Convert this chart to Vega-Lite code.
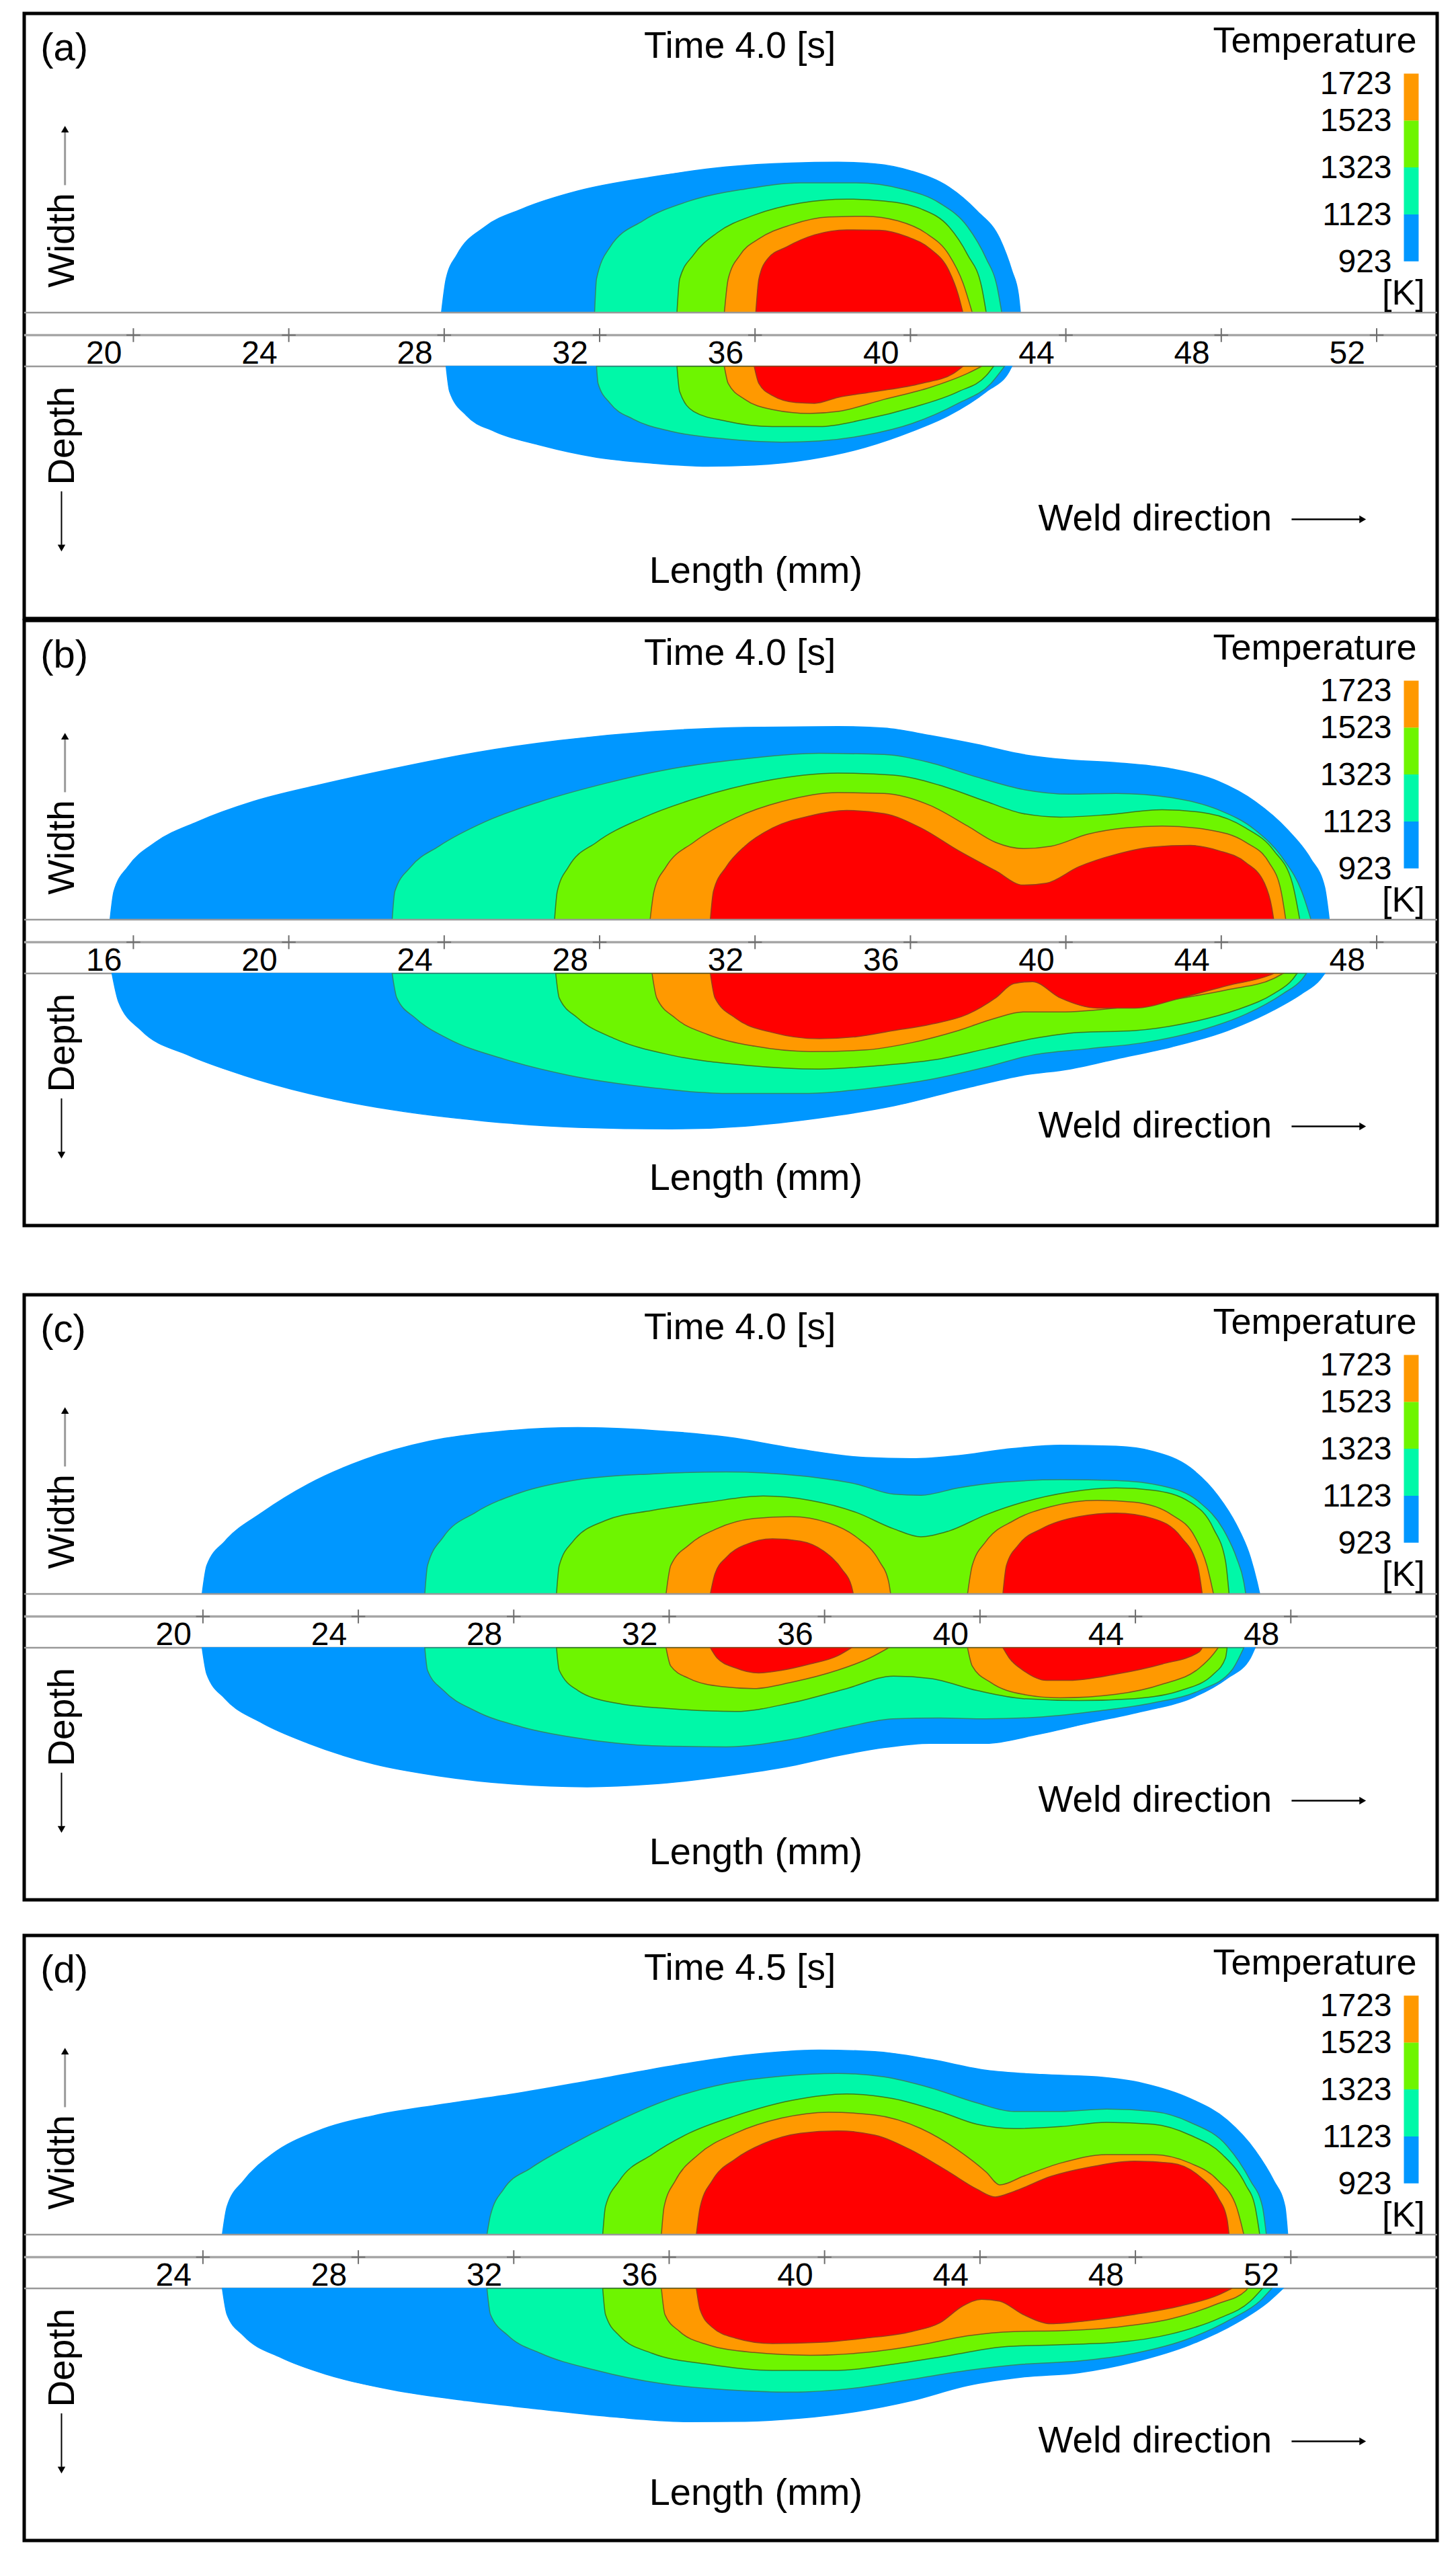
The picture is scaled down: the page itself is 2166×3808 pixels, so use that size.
{
"$schema": "https://vega.github.io/schema/vega-lite/v6.json",
"padding": {"left": 31, "top": 17, "right": 0, "bottom": 0},
"background": "white",
"config": {"view": {"stroke": "#000000", "strokeWidth": 5}, "font": "Liberation Sans", "text": {"font": "Liberation Sans", "color": "#000000"}},
"datasets": {
"ta": [{"t":20},{"t":24},{"t":28},{"t":32},{"t":36},{"t":40},{"t":44},{"t":48},{"t":52}],
"tb": [{"t":16},{"t":20},{"t":24},{"t":28},{"t":32},{"t":36},{"t":40},{"t":44},{"t":48}],
"tc": [{"t":20},{"t":24},{"t":28},{"t":32},{"t":36},{"t":40},{"t":44},{"t":48}],
"td": [{"t":24},{"t":28},{"t":32},{"t":36},{"t":40},{"t":44},{"t":48},{"t":52}],
"cb": [{"l":923,"t1":1123},{"l":1123,"t1":1323},{"l":1323,"t1":1523},{"l":1523,"t1":1723}],
"cl": [{"t":923},{"t":1123},{"t":1323},{"t":1523},{"t":1723}],
"aw": [
{"l":923,"x":27.93,"v":0},{"l":923,"x":28.05,"v":0.87},{"l":923,"x":28.33,"v":1.49},{"l":923,"x":29.05,"v":2.21},{"l":923,"x":30.01,"v":2.67},{"l":923,"x":31.44,"v":3.13},{"l":923,"x":33.35,"v":3.49},{"l":923,"x":35.26,"v":3.75},{"l":923,"x":36.93,"v":3.85},{"l":923,"x":38.13,"v":3.87},{"l":923,"x":39.08,"v":3.83},{"l":923,"x":40.04,"v":3.64},{"l":923,"x":40.99,"v":3.23},{"l":923,"x":41.71,"v":2.62},{"l":923,"x":42.30,"v":1.90},{"l":923,"x":42.61,"v":1.08},{"l":923,"x":42.78,"v":0.46},{"l":923,"x":42.83,"v":0},
{"l":1123,"x":31.87,"v":0},{"l":1123,"x":31.92,"v":0.87},{"l":1123,"x":32.27,"v":1.69},{"l":1123,"x":33.11,"v":2.36},{"l":1123,"x":34.30,"v":2.87},{"l":1123,"x":35.74,"v":3.18},{"l":1123,"x":37.17,"v":3.34},{"l":1123,"x":38.60,"v":3.34},{"l":1123,"x":39.80,"v":3.18},{"l":1123,"x":40.75,"v":2.82},{"l":1123,"x":41.47,"v":2.21},{"l":1123,"x":41.95,"v":1.39},{"l":1123,"x":42.23,"v":0.67},{"l":1123,"x":42.35,"v":0},
{"l":1323,"x":33.99,"v":0},{"l":1323,"x":34.06,"v":0.87},{"l":1323,"x":34.42,"v":1.49},{"l":1323,"x":35.02,"v":2.05},{"l":1323,"x":35.98,"v":2.51},{"l":1323,"x":37.17,"v":2.82},{"l":1323,"x":38.36,"v":2.92},{"l":1323,"x":39.32,"v":2.87},{"l":1323,"x":40.27,"v":2.67},{"l":1323,"x":40.99,"v":2.21},{"l":1323,"x":41.47,"v":1.49},{"l":1323,"x":41.83,"v":0.67},{"l":1323,"x":41.95,"v":0},
{"l":1523,"x":35.21,"v":0},{"l":1523,"x":35.31,"v":0.87},{"l":1523,"x":35.62,"v":1.49},{"l":1523,"x":36.10,"v":1.90},{"l":1523,"x":36.93,"v":2.26},{"l":1523,"x":37.89,"v":2.46},{"l":1523,"x":38.84,"v":2.48},{"l":1523,"x":39.68,"v":2.36},{"l":1523,"x":40.39,"v":2.05},{"l":1523,"x":40.99,"v":1.49},{"l":1523,"x":41.35,"v":0.77},{"l":1523,"x":41.59,"v":0},
{"l":1723,"x":36.02,"v":0},{"l":1723,"x":36.10,"v":0.87},{"l":1723,"x":36.33,"v":1.39},{"l":1723,"x":36.81,"v":1.69},{"l":1723,"x":37.53,"v":2.00},{"l":1723,"x":38.36,"v":2.13},{"l":1723,"x":39.20,"v":2.12},{"l":1723,"x":39.92,"v":1.95},{"l":1723,"x":40.51,"v":1.64},{"l":1723,"x":40.99,"v":1.08},{"l":1723,"x":41.23,"v":0.46},{"l":1723,"x":41.35,"v":0}
],
"ad": [
{"l":923,"x":28.05,"v":0},{"l":923,"x":28.14,"v":0.65},{"l":923,"x":28.57,"v":1.26},{"l":923,"x":29.29,"v":1.67},{"l":923,"x":30.48,"v":2.03},{"l":923,"x":31.92,"v":2.34},{"l":923,"x":33.35,"v":2.49},{"l":923,"x":34.78,"v":2.57},{"l":923,"x":35.98,"v":2.54},{"l":923,"x":37.41,"v":2.39},{"l":923,"x":38.84,"v":2.08},{"l":923,"x":40.04,"v":1.67},{"l":923,"x":40.99,"v":1.26},{"l":923,"x":41.95,"v":0.65},{"l":923,"x":42.54,"v":0.13},{"l":923,"x":42.61,"v":0},
{"l":1123,"x":31.92,"v":0},{"l":1123,"x":31.96,"v":0.44},{"l":1123,"x":32.27,"v":0.95},{"l":1123,"x":32.87,"v":1.36},{"l":1123,"x":33.83,"v":1.67},{"l":1123,"x":35.26,"v":1.87},{"l":1123,"x":36.69,"v":1.95},{"l":1123,"x":37.65,"v":1.92},{"l":1123,"x":38.84,"v":1.77},{"l":1123,"x":40.04,"v":1.47},{"l":1123,"x":41.23,"v":0.95},{"l":1123,"x":42.07,"v":0.44},{"l":1123,"x":42.42,"v":0},
{"l":1323,"x":33.99,"v":0},{"l":1323,"x":34.06,"v":0.65},{"l":1323,"x":34.42,"v":1.16},{"l":1323,"x":35.26,"v":1.41},{"l":1323,"x":36.45,"v":1.55},{"l":1323,"x":37.65,"v":1.55},{"l":1323,"x":38.84,"v":1.36},{"l":1323,"x":40.04,"v":1.06},{"l":1323,"x":41.23,"v":0.65},{"l":1323,"x":41.95,"v":0.24},{"l":1323,"x":42.14,"v":0},
{"l":1523,"x":35.21,"v":0},{"l":1523,"x":35.31,"v":0.44},{"l":1523,"x":35.74,"v":0.85},{"l":1523,"x":36.45,"v":1.11},{"l":1523,"x":37.41,"v":1.21},{"l":1523,"x":38.13,"v":1.16},{"l":1523,"x":39.32,"v":0.85},{"l":1523,"x":40.51,"v":0.54},{"l":1523,"x":41.47,"v":0.18},{"l":1523,"x":41.83,"v":0},
{"l":1723,"x":35.98,"v":0},{"l":1723,"x":36.10,"v":0.44},{"l":1723,"x":36.45,"v":0.75},{"l":1723,"x":37.05,"v":0.93},{"l":1723,"x":37.53,"v":0.95},{"l":1723,"x":38.13,"v":0.80},{"l":1723,"x":39.08,"v":0.65},{"l":1723,"x":40.27,"v":0.44},{"l":1723,"x":41.11,"v":0.18},{"l":1723,"x":41.35,"v":0}
],
"bw": [
{"l":923,"x":15.40,"v":0},{"l":923,"x":15.50,"v":0.73},{"l":923,"x":15.86,"v":1.36},{"l":923,"x":16.57,"v":1.99},{"l":923,"x":17.65,"v":2.52},{"l":923,"x":19.08,"v":3.04},{"l":923,"x":20.75,"v":3.46},{"l":923,"x":22.66,"v":3.88},{"l":923,"x":24.81,"v":4.30},{"l":923,"x":26.96,"v":4.61},{"l":923,"x":29.35,"v":4.84},{"l":923,"x":31.74,"v":4.95},{"l":923,"x":34.13,"v":4.97},{"l":923,"x":35.32,"v":4.93},{"l":923,"x":36.51,"v":4.74},{"l":923,"x":37.71,"v":4.51},{"l":923,"x":38.90,"v":4.25},{"l":923,"x":40.10,"v":4.11},{"l":923,"x":41.29,"v":4.04},{"l":923,"x":42.72,"v":3.88},{"l":923,"x":43.92,"v":3.56},{"l":923,"x":44.87,"v":3.04},{"l":923,"x":45.71,"v":2.31},{"l":923,"x":46.30,"v":1.57},{"l":923,"x":46.66,"v":0.84},{"l":923,"x":46.78,"v":0},
{"l":1123,"x":22.66,"v":0},{"l":1123,"x":22.73,"v":0.73},{"l":1123,"x":23.14,"v":1.36},{"l":1123,"x":23.86,"v":1.89},{"l":1123,"x":25.05,"v":2.52},{"l":1123,"x":26.48,"v":3.04},{"l":1123,"x":28.16,"v":3.51},{"l":1123,"x":29.83,"v":3.88},{"l":1123,"x":31.74,"v":4.14},{"l":1123,"x":33.65,"v":4.28},{"l":1123,"x":35.32,"v":4.25},{"l":1123,"x":36.51,"v":4.04},{"l":1123,"x":37.71,"v":3.67},{"l":1123,"x":38.90,"v":3.35},{"l":1123,"x":40.10,"v":3.23},{"l":1123,"x":41.29,"v":3.25},{"l":1123,"x":42.72,"v":3.14},{"l":1123,"x":43.92,"v":2.83},{"l":1123,"x":44.87,"v":2.31},{"l":1123,"x":45.59,"v":1.57},{"l":1123,"x":46.07,"v":0.73},{"l":1123,"x":46.31,"v":0},
{"l":1323,"x":26.84,"v":0},{"l":1323,"x":26.91,"v":0.73},{"l":1323,"x":27.20,"v":1.36},{"l":1323,"x":27.92,"v":1.99},{"l":1323,"x":29.11,"v":2.62},{"l":1323,"x":30.54,"v":3.14},{"l":1323,"x":32.21,"v":3.56},{"l":1323,"x":34.13,"v":3.77},{"l":1323,"x":35.56,"v":3.72},{"l":1323,"x":36.75,"v":3.46},{"l":1323,"x":37.95,"v":3.04},{"l":1323,"x":38.90,"v":2.73},{"l":1323,"x":39.86,"v":2.64},{"l":1323,"x":41.05,"v":2.70},{"l":1323,"x":42.48,"v":2.83},{"l":1323,"x":43.68,"v":2.73},{"l":1323,"x":44.63,"v":2.36},{"l":1323,"x":45.35,"v":1.78},{"l":1323,"x":45.83,"v":0.94},{"l":1323,"x":46.02,"v":0},
{"l":1523,"x":29.30,"v":0},{"l":1523,"x":29.40,"v":0.73},{"l":1523,"x":29.71,"v":1.36},{"l":1523,"x":30.42,"v":1.99},{"l":1523,"x":31.50,"v":2.62},{"l":1523,"x":32.69,"v":3.04},{"l":1523,"x":34.13,"v":3.27},{"l":1523,"x":35.32,"v":3.25},{"l":1523,"x":36.51,"v":2.94},{"l":1523,"x":37.47,"v":2.41},{"l":1523,"x":38.19,"v":1.99},{"l":1523,"x":38.90,"v":1.83},{"l":1523,"x":39.62,"v":1.89},{"l":1523,"x":40.57,"v":2.20},{"l":1523,"x":41.53,"v":2.36},{"l":1523,"x":42.48,"v":2.41},{"l":1523,"x":43.68,"v":2.31},{"l":1523,"x":44.63,"v":1.99},{"l":1523,"x":45.23,"v":1.47},{"l":1523,"x":45.54,"v":0.73},{"l":1523,"x":45.66,"v":0},
{"l":1723,"x":30.85,"v":0},{"l":1723,"x":30.93,"v":0.73},{"l":1723,"x":31.26,"v":1.36},{"l":1723,"x":31.74,"v":1.89},{"l":1723,"x":32.45,"v":2.36},{"l":1723,"x":33.41,"v":2.67},{"l":1723,"x":34.36,"v":2.81},{"l":1723,"x":35.32,"v":2.73},{"l":1723,"x":36.27,"v":2.36},{"l":1723,"x":37.23,"v":1.78},{"l":1723,"x":38.19,"v":1.26},{"l":1723,"x":38.90,"v":0.89},{"l":1723,"x":39.50,"v":0.94},{"l":1723,"x":40.33,"v":1.36},{"l":1723,"x":41.29,"v":1.68},{"l":1723,"x":42.24,"v":1.87},{"l":1723,"x":43.20,"v":1.91},{"l":1723,"x":43.92,"v":1.78},{"l":1723,"x":44.63,"v":1.47},{"l":1723,"x":45.11,"v":0.94},{"l":1723,"x":45.30,"v":0.31},{"l":1723,"x":45.35,"v":0}
],
"bd": [
{"l":923,"x":15.45,"v":0},{"l":923,"x":15.62,"v":0.73},{"l":923,"x":16.21,"v":1.47},{"l":923,"x":17.41,"v":2.10},{"l":923,"x":18.84,"v":2.62},{"l":923,"x":20.51,"v":3.09},{"l":923,"x":22.66,"v":3.51},{"l":923,"x":25.05,"v":3.80},{"l":923,"x":27.44,"v":3.96},{"l":923,"x":29.83,"v":4.00},{"l":923,"x":31.74,"v":3.93},{"l":923,"x":33.65,"v":3.72},{"l":923,"x":35.56,"v":3.41},{"l":923,"x":37.47,"v":2.94},{"l":923,"x":38.90,"v":2.62},{"l":923,"x":40.10,"v":2.46},{"l":923,"x":41.29,"v":2.20},{"l":923,"x":42.72,"v":1.89},{"l":923,"x":44.16,"v":1.47},{"l":923,"x":45.35,"v":0.94},{"l":923,"x":46.07,"v":0.52},{"l":923,"x":46.54,"v":0.16},{"l":923,"x":46.66,"v":0},
{"l":1123,"x":22.66,"v":0},{"l":1123,"x":22.78,"v":0.63},{"l":1123,"x":23.26,"v":1.15},{"l":1123,"x":24.10,"v":1.68},{"l":1123,"x":25.53,"v":2.20},{"l":1123,"x":27.20,"v":2.62},{"l":1123,"x":29.35,"v":2.94},{"l":1123,"x":31.26,"v":3.09},{"l":1123,"x":33.17,"v":3.09},{"l":1123,"x":35.08,"v":2.94},{"l":1123,"x":36.51,"v":2.73},{"l":1123,"x":37.95,"v":2.41},{"l":1123,"x":39.14,"v":2.10},{"l":1123,"x":40.57,"v":1.94},{"l":1123,"x":42.01,"v":1.78},{"l":1123,"x":43.44,"v":1.47},{"l":1123,"x":44.63,"v":1.05},{"l":1123,"x":45.59,"v":0.52},{"l":1123,"x":46.07,"v":0.16},{"l":1123,"x":46.19,"v":0},
{"l":1323,"x":26.87,"v":0},{"l":1323,"x":26.96,"v":0.63},{"l":1323,"x":27.44,"v":1.15},{"l":1323,"x":28.39,"v":1.68},{"l":1323,"x":29.83,"v":2.10},{"l":1323,"x":31.74,"v":2.36},{"l":1323,"x":33.65,"v":2.46},{"l":1323,"x":35.32,"v":2.36},{"l":1323,"x":36.75,"v":2.20},{"l":1323,"x":37.95,"v":1.94},{"l":1323,"x":39.14,"v":1.68},{"l":1323,"x":40.33,"v":1.52},{"l":1323,"x":41.77,"v":1.47},{"l":1323,"x":43.20,"v":1.26},{"l":1323,"x":44.39,"v":0.94},{"l":1323,"x":45.35,"v":0.52},{"l":1323,"x":45.83,"v":0.16},{"l":1323,"x":45.95,"v":0},
{"l":1523,"x":29.35,"v":0},{"l":1523,"x":29.47,"v":0.63},{"l":1523,"x":29.95,"v":1.15},{"l":1523,"x":30.78,"v":1.57},{"l":1523,"x":31.98,"v":1.87},{"l":1523,"x":33.41,"v":2.01},{"l":1523,"x":34.84,"v":1.97},{"l":1523,"x":36.04,"v":1.78},{"l":1523,"x":37.23,"v":1.47},{"l":1523,"x":38.19,"v":1.15},{"l":1523,"x":38.90,"v":0.99},{"l":1523,"x":39.86,"v":0.99},{"l":1523,"x":41.29,"v":0.89},{"l":1523,"x":42.72,"v":0.68},{"l":1523,"x":44.16,"v":0.42},{"l":1523,"x":45.35,"v":0.13},{"l":1523,"x":45.59,"v":0},
{"l":1723,"x":30.85,"v":0},{"l":1723,"x":30.97,"v":0.63},{"l":1723,"x":31.50,"v":1.15},{"l":1723,"x":32.45,"v":1.52},{"l":1723,"x":33.65,"v":1.68},{"l":1723,"x":34.60,"v":1.63},{"l":1723,"x":35.56,"v":1.47},{"l":1723,"x":36.51,"v":1.31},{"l":1723,"x":37.47,"v":1.05},{"l":1723,"x":38.19,"v":0.63},{"l":1723,"x":38.66,"v":0.26},{"l":1723,"x":39.14,"v":0.21},{"l":1723,"x":39.86,"v":0.63},{"l":1723,"x":40.81,"v":0.89},{"l":1723,"x":41.77,"v":0.89},{"l":1723,"x":42.96,"v":0.63},{"l":1723,"x":44.16,"v":0.31},{"l":1723,"x":45.23,"v":0.05},{"l":1723,"x":45.35,"v":0}
],
"cw": [
{"g":"1","l":923,"x":19.98,"v":0},{"g":"1","l":923,"x":20.10,"v":0.73},{"g":"1","l":923,"x":20.57,"v":1.36},{"g":"1","l":923,"x":21.53,"v":2.10},{"g":"1","l":923,"x":22.72,"v":2.83},{"g":"1","l":923,"x":24.16,"v":3.46},{"g":"1","l":923,"x":25.83,"v":3.93},{"g":"1","l":923,"x":27.74,"v":4.19},{"g":"1","l":923,"x":29.65,"v":4.28},{"g":"1","l":923,"x":31.56,"v":4.21},{"g":"1","l":923,"x":33.47,"v":4.04},{"g":"1","l":923,"x":35.38,"v":3.72},{"g":"1","l":923,"x":37.05,"v":3.51},{"g":"1","l":923,"x":38.24,"v":3.48},{"g":"1","l":923,"x":39.44,"v":3.56},{"g":"1","l":923,"x":40.63,"v":3.72},{"g":"1","l":923,"x":42.07,"v":3.83},{"g":"1","l":923,"x":43.50,"v":3.80},{"g":"1","l":923,"x":44.45,"v":3.67},{"g":"1","l":923,"x":45.41,"v":3.25},{"g":"1","l":923,"x":46.13,"v":2.52},{"g":"1","l":923,"x":46.60,"v":1.78},{"g":"1","l":923,"x":46.96,"v":0.94},{"g":"1","l":923,"x":47.13,"v":0.31},{"g":"1","l":923,"x":47.20,"v":0},
{"g":"2","l":1123,"x":25.71,"v":0},{"g":"2","l":1123,"x":25.78,"v":0.73},{"g":"2","l":1123,"x":26.19,"v":1.47},{"g":"2","l":1123,"x":27.02,"v":2.10},{"g":"2","l":1123,"x":28.21,"v":2.62},{"g":"2","l":1123,"x":29.65,"v":2.94},{"g":"2","l":1123,"x":31.56,"v":3.09},{"g":"2","l":1123,"x":33.47,"v":3.14},{"g":"2","l":1123,"x":35.38,"v":3.04},{"g":"2","l":1123,"x":36.81,"v":2.83},{"g":"2","l":1123,"x":37.77,"v":2.57},{"g":"2","l":1123,"x":38.48,"v":2.54},{"g":"2","l":1123,"x":39.44,"v":2.73},{"g":"2","l":1123,"x":40.63,"v":2.88},{"g":"2","l":1123,"x":42.07,"v":2.94},{"g":"2","l":1123,"x":43.50,"v":2.92},{"g":"2","l":1123,"x":44.69,"v":2.78},{"g":"2","l":1123,"x":45.65,"v":2.36},{"g":"2","l":1123,"x":46.25,"v":1.68},{"g":"2","l":1123,"x":46.60,"v":0.94},{"g":"2","l":1123,"x":46.79,"v":0.31},{"g":"2","l":1123,"x":46.84,"v":0},
{"g":"3","l":1323,"x":29.10,"v":0},{"g":"3","l":1323,"x":29.17,"v":0.73},{"g":"3","l":1323,"x":29.53,"v":1.36},{"g":"3","l":1323,"x":30.36,"v":1.89},{"g":"3","l":1323,"x":31.56,"v":2.15},{"g":"3","l":1323,"x":32.99,"v":2.36},{"g":"3","l":1323,"x":34.42,"v":2.52},{"g":"3","l":1323,"x":35.62,"v":2.41},{"g":"3","l":1323,"x":36.81,"v":2.10},{"g":"3","l":1323,"x":37.77,"v":1.68},{"g":"3","l":1323,"x":38.48,"v":1.47},{"g":"3","l":1323,"x":39.20,"v":1.62},{"g":"3","l":1323,"x":40.16,"v":2.04},{"g":"3","l":1323,"x":41.11,"v":2.36},{"g":"3","l":1323,"x":42.30,"v":2.62},{"g":"3","l":1323,"x":43.50,"v":2.73},{"g":"3","l":1323,"x":44.45,"v":2.67},{"g":"3","l":1323,"x":45.41,"v":2.36},{"g":"3","l":1323,"x":46.01,"v":1.68},{"g":"3","l":1323,"x":46.32,"v":0.84},{"g":"3","l":1323,"x":46.41,"v":0},
{"g":"4L","l":1523,"x":31.92,"v":0},{"g":"4L","l":1523,"x":32.04,"v":0.73},{"g":"4L","l":1523,"x":32.51,"v":1.26},{"g":"4L","l":1523,"x":33.23,"v":1.68},{"g":"4L","l":1523,"x":34.18,"v":1.94},{"g":"4L","l":1523,"x":35.14,"v":1.99},{"g":"4L","l":1523,"x":36.10,"v":1.83},{"g":"4L","l":1523,"x":36.81,"v":1.47},{"g":"4L","l":1523,"x":37.41,"v":0.84},{"g":"4L","l":1523,"x":37.65,"v":0.31},{"g":"4L","l":1523,"x":37.70,"v":0},
{"g":"4R","l":1523,"x":39.68,"v":0},{"g":"4R","l":1523,"x":39.80,"v":0.73},{"g":"4R","l":1523,"x":40.16,"v":1.36},{"g":"4R","l":1523,"x":40.87,"v":1.89},{"g":"4R","l":1523,"x":41.83,"v":2.25},{"g":"4R","l":1523,"x":43.02,"v":2.41},{"g":"4R","l":1523,"x":43.98,"v":2.36},{"g":"4R","l":1523,"x":44.93,"v":2.04},{"g":"4R","l":1523,"x":45.53,"v":1.47},{"g":"4R","l":1523,"x":45.84,"v":0.73},{"g":"4R","l":1523,"x":46.01,"v":0},
{"g":"5L","l":1723,"x":33.06,"v":0},{"g":"5L","l":1723,"x":33.18,"v":0.52},{"g":"5L","l":1723,"x":33.47,"v":0.94},{"g":"5L","l":1723,"x":33.95,"v":1.26},{"g":"5L","l":1723,"x":34.66,"v":1.42},{"g":"5L","l":1723,"x":35.38,"v":1.36},{"g":"5L","l":1723,"x":35.98,"v":1.10},{"g":"5L","l":1723,"x":36.45,"v":0.63},{"g":"5L","l":1723,"x":36.69,"v":0.21},{"g":"5L","l":1723,"x":36.74,"v":0},
{"g":"5R","l":1723,"x":40.59,"v":0},{"g":"5R","l":1723,"x":40.68,"v":0.73},{"g":"5R","l":1723,"x":40.99,"v":1.26},{"g":"5R","l":1723,"x":41.59,"v":1.68},{"g":"5R","l":1723,"x":42.54,"v":1.99},{"g":"5R","l":1723,"x":43.50,"v":2.08},{"g":"5R","l":1723,"x":44.45,"v":1.94},{"g":"5R","l":1723,"x":45.17,"v":1.47},{"g":"5R","l":1723,"x":45.60,"v":0.73},{"g":"5R","l":1723,"x":45.72,"v":0}
],
"cd": [
{"g":"1","l":923,"x":19.98,"v":0},{"g":"1","l":923,"x":20.10,"v":0.68},{"g":"1","l":923,"x":20.57,"v":1.31},{"g":"1","l":923,"x":21.53,"v":1.94},{"g":"1","l":923,"x":22.72,"v":2.46},{"g":"1","l":923,"x":24.39,"v":2.99},{"g":"1","l":923,"x":26.07,"v":3.30},{"g":"1","l":923,"x":27.98,"v":3.51},{"g":"1","l":923,"x":29.89,"v":3.58},{"g":"1","l":923,"x":31.56,"v":3.51},{"g":"1","l":923,"x":33.47,"v":3.30},{"g":"1","l":923,"x":35.14,"v":3.04},{"g":"1","l":923,"x":36.33,"v":2.78},{"g":"1","l":923,"x":37.53,"v":2.57},{"g":"1","l":923,"x":38.72,"v":2.46},{"g":"1","l":923,"x":40.16,"v":2.46},{"g":"1","l":923,"x":41.35,"v":2.26},{"g":"1","l":923,"x":42.78,"v":1.94},{"g":"1","l":923,"x":44.21,"v":1.63},{"g":"1","l":923,"x":45.41,"v":1.31},{"g":"1","l":923,"x":46.36,"v":0.79},{"g":"1","l":923,"x":46.96,"v":0.26},{"g":"1","l":923,"x":47.08,"v":0},
{"g":"2","l":1123,"x":25.71,"v":0},{"g":"2","l":1123,"x":25.78,"v":0.58},{"g":"2","l":1123,"x":26.19,"v":1.10},{"g":"2","l":1123,"x":27.02,"v":1.63},{"g":"2","l":1123,"x":28.21,"v":2.04},{"g":"2","l":1123,"x":29.89,"v":2.36},{"g":"2","l":1123,"x":31.56,"v":2.52},{"g":"2","l":1123,"x":33.47,"v":2.55},{"g":"2","l":1123,"x":35.14,"v":2.36},{"g":"2","l":1123,"x":36.57,"v":2.04},{"g":"2","l":1123,"x":37.77,"v":1.83},{"g":"2","l":1123,"x":38.96,"v":1.81},{"g":"2","l":1123,"x":40.16,"v":1.83},{"g":"2","l":1123,"x":41.59,"v":1.78},{"g":"2","l":1123,"x":43.02,"v":1.63},{"g":"2","l":1123,"x":44.45,"v":1.42},{"g":"2","l":1123,"x":45.65,"v":1.10},{"g":"2","l":1123,"x":46.48,"v":0.58},{"g":"2","l":1123,"x":46.79,"v":0},
{"g":"3","l":1323,"x":29.10,"v":0},{"g":"3","l":1323,"x":29.17,"v":0.58},{"g":"3","l":1323,"x":29.65,"v":1.10},{"g":"3","l":1323,"x":30.60,"v":1.42},{"g":"3","l":1323,"x":32.04,"v":1.57},{"g":"3","l":1323,"x":33.71,"v":1.64},{"g":"3","l":1323,"x":35.14,"v":1.42},{"g":"3","l":1323,"x":36.57,"v":1.05},{"g":"3","l":1323,"x":37.77,"v":0.73},{"g":"3","l":1323,"x":38.72,"v":0.79},{"g":"3","l":1323,"x":39.92,"v":1.10},{"g":"3","l":1323,"x":41.11,"v":1.31},{"g":"3","l":1323,"x":42.54,"v":1.36},{"g":"3","l":1323,"x":43.98,"v":1.31},{"g":"3","l":1323,"x":45.17,"v":1.10},{"g":"3","l":1323,"x":46.01,"v":0.68},{"g":"3","l":1323,"x":46.32,"v":0.26},{"g":"3","l":1323,"x":46.36,"v":0},
{"g":"4L","l":1523,"x":31.92,"v":0},{"g":"4L","l":1523,"x":32.04,"v":0.47},{"g":"4L","l":1523,"x":32.51,"v":0.79},{"g":"4L","l":1523,"x":33.35,"v":1.00},{"g":"4L","l":1523,"x":34.18,"v":1.05},{"g":"4L","l":1523,"x":35.14,"v":0.89},{"g":"4L","l":1523,"x":36.33,"v":0.58},{"g":"4L","l":1523,"x":37.17,"v":0.26},{"g":"4L","l":1523,"x":37.65,"v":0},
{"g":"4R","l":1523,"x":39.68,"v":0},{"g":"4R","l":1523,"x":39.80,"v":0.47},{"g":"4R","l":1523,"x":40.27,"v":0.89},{"g":"4R","l":1523,"x":41.11,"v":1.20},{"g":"4R","l":1523,"x":42.07,"v":1.29},{"g":"4R","l":1523,"x":43.50,"v":1.20},{"g":"4R","l":1523,"x":44.69,"v":0.94},{"g":"4R","l":1523,"x":45.65,"v":0.52},{"g":"4R","l":1523,"x":46.01,"v":0.16},{"g":"4R","l":1523,"x":46.13,"v":0},
{"g":"5L","l":1723,"x":33.06,"v":0},{"g":"5L","l":1723,"x":33.23,"v":0.26},{"g":"5L","l":1723,"x":33.71,"v":0.52},{"g":"5L","l":1723,"x":34.30,"v":0.65},{"g":"5L","l":1723,"x":34.90,"v":0.58},{"g":"5L","l":1723,"x":35.62,"v":0.42},{"g":"5L","l":1723,"x":36.33,"v":0.21},{"g":"5L","l":1723,"x":36.69,"v":0},
{"g":"5R","l":1723,"x":40.59,"v":0},{"g":"5R","l":1723,"x":40.75,"v":0.26},{"g":"5R","l":1723,"x":41.11,"v":0.58},{"g":"5R","l":1723,"x":41.71,"v":0.84},{"g":"5R","l":1723,"x":42.30,"v":0.84},{"g":"5R","l":1723,"x":43.50,"v":0.68},{"g":"5R","l":1723,"x":44.69,"v":0.42},{"g":"5R","l":1723,"x":45.65,"v":0.10},{"g":"5R","l":1723,"x":45.72,"v":0}
],
"dw": [
{"l":923,"x":24.50,"v":0},{"l":923,"x":24.62,"v":0.72},{"l":923,"x":25.05,"v":1.39},{"l":923,"x":25.77,"v":2.06},{"l":923,"x":26.96,"v":2.67},{"l":923,"x":28.39,"v":3.06},{"l":923,"x":30.07,"v":3.34},{"l":923,"x":31.98,"v":3.62},{"l":923,"x":33.89,"v":3.95},{"l":923,"x":36.04,"v":4.34},{"l":923,"x":37.95,"v":4.62},{"l":923,"x":39.86,"v":4.75},{"l":923,"x":41.29,"v":4.71},{"l":923,"x":42.72,"v":4.51},{"l":923,"x":44.16,"v":4.23},{"l":923,"x":45.59,"v":4.12},{"l":923,"x":47.02,"v":4.06},{"l":923,"x":48.21,"v":3.89},{"l":923,"x":49.41,"v":3.50},{"l":923,"x":50.36,"v":2.95},{"l":923,"x":51.08,"v":2.17},{"l":923,"x":51.56,"v":1.39},{"l":923,"x":51.85,"v":0.72},{"l":923,"x":51.92,"v":0},
{"l":1123,"x":31.31,"v":0},{"l":1123,"x":31.40,"v":0.50},{"l":1123,"x":31.74,"v":1.17},{"l":1123,"x":32.45,"v":1.72},{"l":1123,"x":33.41,"v":2.28},{"l":1123,"x":34.60,"v":2.89},{"l":1123,"x":36.04,"v":3.50},{"l":1123,"x":37.47,"v":3.89},{"l":1123,"x":38.90,"v":4.08},{"l":1123,"x":40.33,"v":4.15},{"l":1123,"x":41.53,"v":4.06},{"l":1123,"x":42.72,"v":3.78},{"l":1123,"x":43.92,"v":3.39},{"l":1123,"x":44.87,"v":3.17},{"l":1123,"x":46.07,"v":3.17},{"l":1123,"x":47.26,"v":3.23},{"l":1123,"x":48.45,"v":3.17},{"l":1123,"x":49.41,"v":2.89},{"l":1123,"x":50.36,"v":2.28},{"l":1123,"x":50.96,"v":1.39},{"l":1123,"x":51.27,"v":0.72},{"l":1123,"x":51.37,"v":0},
{"l":1323,"x":34.29,"v":0},{"l":1323,"x":34.36,"v":0.72},{"l":1323,"x":34.72,"v":1.39},{"l":1323,"x":35.56,"v":2.06},{"l":1323,"x":36.51,"v":2.61},{"l":1323,"x":37.71,"v":3.06},{"l":1323,"x":39.14,"v":3.45},{"l":1323,"x":40.57,"v":3.62},{"l":1323,"x":41.77,"v":3.50},{"l":1323,"x":42.96,"v":3.17},{"l":1323,"x":43.92,"v":2.84},{"l":1323,"x":44.87,"v":2.73},{"l":1323,"x":46.07,"v":2.78},{"l":1323,"x":47.26,"v":2.89},{"l":1323,"x":48.45,"v":2.84},{"l":1323,"x":49.41,"v":2.56},{"l":1323,"x":50.24,"v":2.06},{"l":1323,"x":50.84,"v":1.28},{"l":1323,"x":51.08,"v":0.72},{"l":1323,"x":51.20,"v":0},
{"l":1523,"x":35.80,"v":0},{"l":1523,"x":35.87,"v":0.72},{"l":1523,"x":36.16,"v":1.39},{"l":1523,"x":36.75,"v":2.06},{"l":1523,"x":37.71,"v":2.61},{"l":1523,"x":38.90,"v":3.00},{"l":1523,"x":40.10,"v":3.15},{"l":1523,"x":41.29,"v":3.08},{"l":1523,"x":42.48,"v":2.73},{"l":1523,"x":43.44,"v":2.17},{"l":1523,"x":44.16,"v":1.61},{"l":1523,"x":44.51,"v":1.28},{"l":1523,"x":45.11,"v":1.50},{"l":1523,"x":46.07,"v":1.84},{"l":1523,"x":47.26,"v":2.06},{"l":1523,"x":48.45,"v":2.06},{"l":1523,"x":49.41,"v":1.84},{"l":1523,"x":50.13,"v":1.39},{"l":1523,"x":50.60,"v":0.72},{"l":1523,"x":50.79,"v":0},
{"l":1723,"x":36.70,"v":0},{"l":1723,"x":36.80,"v":0.72},{"l":1723,"x":37.11,"v":1.39},{"l":1723,"x":37.71,"v":1.95},{"l":1723,"x":38.42,"v":2.34},{"l":1723,"x":39.38,"v":2.61},{"l":1723,"x":40.33,"v":2.67},{"l":1723,"x":41.29,"v":2.56},{"l":1723,"x":42.24,"v":2.17},{"l":1723,"x":43.20,"v":1.61},{"l":1723,"x":43.92,"v":1.17},{"l":1723,"x":44.39,"v":0.97},{"l":1723,"x":44.87,"v":1.11},{"l":1723,"x":45.83,"v":1.50},{"l":1723,"x":46.78,"v":1.73},{"l":1723,"x":47.98,"v":1.89},{"l":1723,"x":48.93,"v":1.84},{"l":1723,"x":49.65,"v":1.50},{"l":1723,"x":50.13,"v":0.95},{"l":1723,"x":50.36,"v":0.39},{"l":1723,"x":50.41,"v":0}
],
"dd": [
{"l":923,"x":24.50,"v":0},{"l":923,"x":24.62,"v":0.67},{"l":923,"x":25.05,"v":1.22},{"l":923,"x":26.01,"v":1.78},{"l":923,"x":27.20,"v":2.22},{"l":923,"x":28.87,"v":2.61},{"l":923,"x":30.78,"v":2.89},{"l":923,"x":32.69,"v":3.11},{"l":923,"x":34.60,"v":3.31},{"l":923,"x":36.51,"v":3.43},{"l":923,"x":37.95,"v":3.42},{"l":923,"x":39.38,"v":3.34},{"l":923,"x":40.81,"v":3.17},{"l":923,"x":42.24,"v":2.89},{"l":923,"x":43.68,"v":2.50},{"l":923,"x":45.11,"v":2.28},{"l":923,"x":46.54,"v":2.17},{"l":923,"x":47.98,"v":1.89},{"l":923,"x":49.41,"v":1.45},{"l":923,"x":50.60,"v":0.89},{"l":923,"x":51.44,"v":0.33},{"l":923,"x":51.80,"v":0},
{"l":1123,"x":31.31,"v":0},{"l":1123,"x":31.40,"v":0.67},{"l":1123,"x":31.86,"v":1.22},{"l":1123,"x":32.69,"v":1.67},{"l":1123,"x":34.13,"v":2.11},{"l":1123,"x":35.80,"v":2.45},{"l":1123,"x":37.47,"v":2.61},{"l":1123,"x":39.14,"v":2.67},{"l":1123,"x":40.81,"v":2.56},{"l":1123,"x":42.24,"v":2.34},{"l":1123,"x":43.68,"v":2.11},{"l":1123,"x":45.11,"v":1.95},{"l":1123,"x":46.54,"v":1.87},{"l":1123,"x":47.98,"v":1.67},{"l":1123,"x":49.41,"v":1.28},{"l":1123,"x":50.48,"v":0.78},{"l":1123,"x":51.20,"v":0.33},{"l":1123,"x":51.51,"v":0},
{"l":1323,"x":34.29,"v":0},{"l":1323,"x":34.36,"v":0.67},{"l":1323,"x":34.72,"v":1.22},{"l":1323,"x":35.56,"v":1.67},{"l":1323,"x":36.99,"v":1.95},{"l":1323,"x":38.66,"v":2.11},{"l":1323,"x":40.33,"v":2.11},{"l":1323,"x":41.77,"v":1.95},{"l":1323,"x":43.20,"v":1.73},{"l":1323,"x":44.63,"v":1.50},{"l":1323,"x":46.07,"v":1.45},{"l":1323,"x":47.50,"v":1.39},{"l":1323,"x":48.93,"v":1.17},{"l":1323,"x":50.13,"v":0.78},{"l":1323,"x":50.96,"v":0.33},{"l":1323,"x":51.27,"v":0},
{"l":1523,"x":35.80,"v":0},{"l":1523,"x":35.89,"v":0.67},{"l":1523,"x":36.27,"v":1.11},{"l":1523,"x":36.99,"v":1.45},{"l":1523,"x":38.19,"v":1.65},{"l":1523,"x":39.62,"v":1.72},{"l":1523,"x":41.05,"v":1.65},{"l":1523,"x":42.48,"v":1.45},{"l":1523,"x":43.68,"v":1.22},{"l":1523,"x":44.87,"v":1.11},{"l":1523,"x":46.07,"v":1.09},{"l":1523,"x":47.50,"v":1.00},{"l":1523,"x":48.93,"v":0.78},{"l":1523,"x":50.13,"v":0.39},{"l":1523,"x":50.84,"v":0.06},{"l":1523,"x":50.89,"v":0},
{"l":1723,"x":36.70,"v":0},{"l":1723,"x":36.80,"v":0.56},{"l":1723,"x":37.11,"v":1.00},{"l":1723,"x":37.71,"v":1.28},{"l":1723,"x":38.66,"v":1.42},{"l":1723,"x":39.86,"v":1.39},{"l":1723,"x":41.05,"v":1.28},{"l":1723,"x":42.24,"v":1.11},{"l":1723,"x":42.96,"v":0.89},{"l":1723,"x":43.56,"v":0.45},{"l":1723,"x":44.04,"v":0.28},{"l":1723,"x":44.51,"v":0.33},{"l":1723,"x":45.11,"v":0.67},{"l":1723,"x":45.83,"v":0.91},{"l":1723,"x":46.78,"v":0.83},{"l":1723,"x":47.98,"v":0.67},{"l":1723,"x":49.17,"v":0.45},{"l":1723,"x":50.13,"v":0.17},{"l":1723,"x":50.48,"v":0}
]
},
"spacing": 97,
"resolve": {"scale": {"x": "independent", "y": "independent"}},
"vconcat": [
{"spacing": -5, "resolve": {"scale": {"x": "independent", "y": "independent"}}, "vconcat": [
{"width": 2102, "height": 900, "data": {"values": [{}]},
 "resolve": {"scale": {"x": "independent", "y": "independent"}},
 "layer": [
  {"layer": [
    {"data": {"name": "aw"}, "mark": {"type": "area", "interpolate": "monotone", "strokeWidth": 1.5},
     "encoding": {"x": {"field": "x", "type": "quantitative", "scale": {"domain": [17.19, 53.557], "nice": false, "zero": false}, "axis": null},
      "y": {"field": "v", "type": "quantitative", "stack": null, "scale": {"domain": [-7.872, 7.699], "nice": false, "zero": false}, "axis": null},
      "y2": {"datum": 0},
      "color": {"field": "l", "type": "ordinal", "scale": {"domain": [923,1123,1323,1523,1723], "range": ["#0097FF","#00F8A8","#6EF500","#FF9900","#FF0000"]}, "legend": null},
      "stroke": {"field": "l", "type": "ordinal", "scale": {"domain": [923,1123,1323,1523,1723], "range": ["#0097FF","#2E8A6A","#3C7A1C","#7A5A1A","#9A3A1A"]}, "legend": null},
      "detail": {"field": "g"}}},
    {"mark": {"type": "rule", "color": "#999999", "strokeWidth": 2.5}, "encoding": {"y": {"datum": 0, "type": "quantitative", "scale": {"domain": [-7.872, 7.699], "nice": false, "zero": false}, "axis": null}}},
    {"mark": {"type": "rule", "color": "#a6a6a6", "strokeWidth": 3.5}, "encoding": {"y": {"datum": -0.58, "type": "quantitative", "scale": {"domain": [-7.872, 7.699], "nice": false, "zero": false}, "axis": null}}},
    {"mark": {"type": "rule", "color": "#999999", "strokeWidth": 2.5}, "encoding": {"y": {"datum": -1.384, "type": "quantitative", "scale": {"domain": [-7.872, 7.699], "nice": false, "zero": false}, "axis": null}}},
    {"data": {"name": "ta"}, "mark": {"type": "point", "shape": "M-1,0L1,0M0,-1L0,1", "size": 420, "filled": false, "color": "#6e6e6e", "strokeWidth": 2, "opacity": 1},
     "encoding": {"x": {"field": "t", "type": "quantitative", "scale": {"domain": [17.19, 53.557], "nice": false, "zero": false}, "axis": null}, "y": {"datum": -0.58, "type": "quantitative", "scale": {"domain": [-7.872, 7.699], "nice": false, "zero": false}, "axis": null}}},
    {"data": {"name": "ta"}, "mark": {"type": "text", "align": "right", "baseline": "alphabetic", "dx": -17, "fontSize": 48},
     "encoding": {"x": {"field": "t", "type": "quantitative", "scale": {"domain": [17.19, 53.557], "nice": false, "zero": false}, "axis": null}, "y": {"datum": -1.31, "type": "quantitative", "scale": {"domain": [-7.872, 7.699], "nice": false, "zero": false}, "axis": null}, "text": {"field": "t", "type": "nominal"}}}
  ]},
  {"data": {"name": "ad"}, "mark": {"type": "area", "interpolate": "monotone", "strokeWidth": 1.5},
   "encoding": {"x": {"field": "x", "type": "quantitative", "scale": {"domain": [17.19, 53.557], "nice": false, "zero": false}, "axis": null},
    "y": {"field": "v", "type": "quantitative", "stack": null, "scale": {"domain": [-9.083, 6.488], "nice": false, "zero": false, "reverse": true}, "axis": null},
    "y2": {"datum": 0},
    "color": {"field": "l", "type": "ordinal", "scale": {"domain": [923,1123,1323,1523,1723], "range": ["#0097FF","#00F8A8","#6EF500","#FF9900","#FF0000"]}, "legend": null},
    "stroke": {"field": "l", "type": "ordinal", "scale": {"domain": [923,1123,1323,1523,1723], "range": ["#0097FF","#2E8A6A","#3C7A1C","#7A5A1A","#9A3A1A"]}, "legend": null},
    "detail": {"field": "g"}}},
  {"layer": [
    {"mark": {"type": "text", "text": "(a)", "fontSize": 58, "align": "left", "baseline": "alphabetic"}, "encoding": {"x": {"datum": 0.42, "type": "quantitative", "scale": {"domain": [0, 36.367], "nice": false, "zero": false}, "axis": null}, "y": {"datum": 6.48, "type": "quantitative", "scale": {"domain": [-7.872, 7.699], "nice": false, "zero": false}, "axis": null}}},
    {"mark": {"type": "text", "text": "Time 4.0 [s]", "fontSize": 55, "align": "center", "baseline": "alphabetic"}, "encoding": {"x": {"datum": 18.42, "type": "quantitative", "scale": {"domain": [0, 36.367], "nice": false, "zero": false}, "axis": null}, "y": {"datum": 6.55, "type": "quantitative", "scale": {"domain": [-7.872, 7.699], "nice": false, "zero": false}, "axis": null}}},
    {"mark": {"type": "text", "text": "Temperature", "fontSize": 54, "align": "right", "baseline": "alphabetic"}, "encoding": {"x": {"datum": 35.84, "type": "quantitative", "scale": {"domain": [0, 36.367], "nice": false, "zero": false}, "axis": null}, "y": {"datum": 6.70, "type": "quantitative", "scale": {"domain": [-7.872, 7.699], "nice": false, "zero": false}, "axis": null}}},
    {"mark": {"type": "text", "text": "[K]", "fontSize": 52, "align": "right", "baseline": "middle"}, "encoding": {"x": {"datum": 36.05, "type": "quantitative", "scale": {"domain": [0, 36.367], "nice": false, "zero": false}, "axis": null}, "y": {"datum": 0.49, "type": "quantitative", "scale": {"domain": [-7.872, 7.699], "nice": false, "zero": false}, "axis": null}}},
    {"mark": {"type": "text", "text": "Weld direction", "fontSize": 55, "align": "left", "baseline": "alphabetic"}, "encoding": {"x": {"datum": 26.10, "type": "quantitative", "scale": {"domain": [0, 36.367], "nice": false, "zero": false}, "axis": null}, "y": {"datum": -5.60, "type": "quantitative", "scale": {"domain": [-7.872, 7.699], "nice": false, "zero": false}, "axis": null}}},
    {"mark": {"type": "text", "text": "Length (mm)", "fontSize": 56, "align": "center", "baseline": "alphabetic"}, "encoding": {"x": {"datum": 18.83, "type": "quantitative", "scale": {"domain": [0, 36.367], "nice": false, "zero": false}, "axis": null}, "y": {"datum": -6.96, "type": "quantitative", "scale": {"domain": [-7.872, 7.699], "nice": false, "zero": false}, "axis": null}}},
    {"mark": {"type": "text", "text": "Width", "fontSize": 55, "align": "center", "baseline": "middle", "angle": 270}, "encoding": {"x": {"datum": 0.98, "type": "quantitative", "scale": {"domain": [0, 36.367], "nice": false, "zero": false}, "axis": null}, "y": {"datum": 1.86, "type": "quantitative", "scale": {"domain": [-7.872, 7.699], "nice": false, "zero": false}, "axis": null}}},
    {"mark": {"type": "text", "text": "Depth", "fontSize": 55, "align": "center", "baseline": "middle", "angle": 270}, "encoding": {"x": {"datum": 0.98, "type": "quantitative", "scale": {"domain": [0, 36.367], "nice": false, "zero": false}, "axis": null}, "y": {"datum": -3.17, "type": "quantitative", "scale": {"domain": [-7.872, 7.699], "nice": false, "zero": false}, "axis": null}}},
    {"mark": {"type": "rule", "color": "#000000", "strokeWidth": 2.5}, "encoding": {"x": {"datum": 32.62, "type": "quantitative", "scale": {"domain": [0, 36.367], "nice": false, "zero": false}, "axis": null}, "x2": {"datum": 34.45}, "y": {"datum": -5.32, "type": "quantitative", "scale": {"domain": [-7.872, 7.699], "nice": false, "zero": false}, "axis": null}}},
    {"mark": {"type": "point", "shape": "triangle-right", "size": 130, "filled": true, "color": "#000000", "opacity": 1}, "encoding": {"x": {"datum": 34.45, "type": "quantitative", "scale": {"domain": [0, 36.367], "nice": false, "zero": false}, "axis": null}, "y": {"datum": -5.32, "type": "quantitative", "scale": {"domain": [-7.872, 7.699], "nice": false, "zero": false}, "axis": null}}},
    {"mark": {"type": "rule", "color": "#9a9a9a", "strokeWidth": 3}, "encoding": {"x": {"datum": 1.05, "type": "quantitative", "scale": {"domain": [0, 36.367], "nice": false, "zero": false}, "axis": null}, "y": {"datum": 3.28, "type": "quantitative", "scale": {"domain": [-7.872, 7.699], "nice": false, "zero": false}, "axis": null}, "y2": {"datum": 4.65}}},
    {"mark": {"type": "point", "shape": "triangle-up", "size": 130, "filled": true, "color": "#000000", "opacity": 1}, "encoding": {"x": {"datum": 1.05, "type": "quantitative", "scale": {"domain": [0, 36.367], "nice": false, "zero": false}, "axis": null}, "y": {"datum": 4.72, "type": "quantitative", "scale": {"domain": [-7.872, 7.699], "nice": false, "zero": false}, "axis": null}}},
    {"mark": {"type": "rule", "color": "#000000", "strokeWidth": 2}, "encoding": {"x": {"datum": 0.96, "type": "quantitative", "scale": {"domain": [0, 36.367], "nice": false, "zero": false}, "axis": null}, "y": {"datum": -4.60, "type": "quantitative", "scale": {"domain": [-7.872, 7.699], "nice": false, "zero": false}, "axis": null}, "y2": {"datum": -5.98}}},
    {"mark": {"type": "point", "shape": "triangle-down", "size": 130, "filled": true, "color": "#000000", "opacity": 1}, "encoding": {"x": {"datum": 0.96, "type": "quantitative", "scale": {"domain": [0, 36.367], "nice": false, "zero": false}, "axis": null}, "y": {"datum": -6.06, "type": "quantitative", "scale": {"domain": [-7.872, 7.699], "nice": false, "zero": false}, "axis": null}}}
  ]},
  {"layer": [
    {"data": {"name": "cb"}, "mark": {"type": "rect"}, "encoding": {"x": {"datum": 35.51, "type": "quantitative", "scale": {"domain": [0, 36.367], "nice": false, "zero": false}, "axis": null}, "x2": {"datum": 35.89}, "y": {"field": "l", "type": "quantitative", "scale": {"domain": [-599.5, 1979.5], "nice": false, "zero": false}, "axis": null}, "y2": {"field": "t1"}, "color": {"field": "l", "type": "ordinal", "scale": {"domain": [923,1123,1323,1523,1723], "range": ["#0097FF","#00F8A8","#6EF500","#FF9900","#FF0000"]}, "legend": null}}},
    {"data": {"name": "cl"}, "transform": [{"filter": "datum.t < 1700"}], "mark": {"type": "text", "align": "right", "baseline": "middle", "fontSize": 48, "dy": 2}, "encoding": {"x": {"datum": 35.20, "type": "quantitative", "scale": {"domain": [0, 36.367], "nice": false, "zero": false}, "axis": null}, "y": {"field": "t", "type": "quantitative", "scale": {"domain": [-599.5, 1979.5], "nice": false, "zero": false}, "axis": null}, "text": {"field": "t", "type": "nominal"}}},
    {"data": {"name": "cl"}, "transform": [{"filter": "datum.t > 1700"}], "mark": {"type": "text", "align": "right", "baseline": "middle", "fontSize": 48, "dy": 16}, "encoding": {"x": {"datum": 35.20, "type": "quantitative", "scale": {"domain": [0, 36.367], "nice": false, "zero": false}, "axis": null}, "y": {"field": "t", "type": "quantitative", "scale": {"domain": [-599.5, 1979.5], "nice": false, "zero": false}, "axis": null}, "text": {"field": "t", "type": "nominal"}}}
  ]}
 ]},
{"width": 2102, "height": 900, "data": {"values": [{}]},
 "resolve": {"scale": {"x": "independent", "y": "independent"}},
 "layer": [
  {"layer": [
    {"data": {"name": "bw"}, "mark": {"type": "area", "interpolate": "monotone", "strokeWidth": 1.5},
     "encoding": {"x": {"field": "x", "type": "quantitative", "scale": {"domain": [13.19, 49.557], "nice": false, "zero": false}, "axis": null},
      "y": {"field": "v", "type": "quantitative", "stack": null, "scale": {"domain": [-7.872, 7.699], "nice": false, "zero": false}, "axis": null},
      "y2": {"datum": 0},
      "color": {"field": "l", "type": "ordinal", "scale": {"domain": [923,1123,1323,1523,1723], "range": ["#0097FF","#00F8A8","#6EF500","#FF9900","#FF0000"]}, "legend": null},
      "stroke": {"field": "l", "type": "ordinal", "scale": {"domain": [923,1123,1323,1523,1723], "range": ["#0097FF","#2E8A6A","#3C7A1C","#7A5A1A","#9A3A1A"]}, "legend": null},
      "detail": {"field": "g"}}},
    {"mark": {"type": "rule", "color": "#999999", "strokeWidth": 2.5}, "encoding": {"y": {"datum": 0, "type": "quantitative", "scale": {"domain": [-7.872, 7.699], "nice": false, "zero": false}, "axis": null}}},
    {"mark": {"type": "rule", "color": "#a6a6a6", "strokeWidth": 3.5}, "encoding": {"y": {"datum": -0.58, "type": "quantitative", "scale": {"domain": [-7.872, 7.699], "nice": false, "zero": false}, "axis": null}}},
    {"mark": {"type": "rule", "color": "#999999", "strokeWidth": 2.5}, "encoding": {"y": {"datum": -1.384, "type": "quantitative", "scale": {"domain": [-7.872, 7.699], "nice": false, "zero": false}, "axis": null}}},
    {"data": {"name": "tb"}, "mark": {"type": "point", "shape": "M-1,0L1,0M0,-1L0,1", "size": 420, "filled": false, "color": "#6e6e6e", "strokeWidth": 2, "opacity": 1},
     "encoding": {"x": {"field": "t", "type": "quantitative", "scale": {"domain": [13.19, 49.557], "nice": false, "zero": false}, "axis": null}, "y": {"datum": -0.58, "type": "quantitative", "scale": {"domain": [-7.872, 7.699], "nice": false, "zero": false}, "axis": null}}},
    {"data": {"name": "tb"}, "mark": {"type": "text", "align": "right", "baseline": "alphabetic", "dx": -17, "fontSize": 48},
     "encoding": {"x": {"field": "t", "type": "quantitative", "scale": {"domain": [13.19, 49.557], "nice": false, "zero": false}, "axis": null}, "y": {"datum": -1.31, "type": "quantitative", "scale": {"domain": [-7.872, 7.699], "nice": false, "zero": false}, "axis": null}, "text": {"field": "t", "type": "nominal"}}}
  ]},
  {"data": {"name": "bd"}, "mark": {"type": "area", "interpolate": "monotone", "strokeWidth": 1.5},
   "encoding": {"x": {"field": "x", "type": "quantitative", "scale": {"domain": [13.19, 49.557], "nice": false, "zero": false}, "axis": null},
    "y": {"field": "v", "type": "quantitative", "stack": null, "scale": {"domain": [-9.083, 6.488], "nice": false, "zero": false, "reverse": true}, "axis": null},
    "y2": {"datum": 0},
    "color": {"field": "l", "type": "ordinal", "scale": {"domain": [923,1123,1323,1523,1723], "range": ["#0097FF","#00F8A8","#6EF500","#FF9900","#FF0000"]}, "legend": null},
    "stroke": {"field": "l", "type": "ordinal", "scale": {"domain": [923,1123,1323,1523,1723], "range": ["#0097FF","#2E8A6A","#3C7A1C","#7A5A1A","#9A3A1A"]}, "legend": null},
    "detail": {"field": "g"}}},
  {"layer": [
    {"mark": {"type": "text", "text": "(b)", "fontSize": 58, "align": "left", "baseline": "alphabetic"}, "encoding": {"x": {"datum": 0.42, "type": "quantitative", "scale": {"domain": [0, 36.367], "nice": false, "zero": false}, "axis": null}, "y": {"datum": 6.48, "type": "quantitative", "scale": {"domain": [-7.872, 7.699], "nice": false, "zero": false}, "axis": null}}},
    {"mark": {"type": "text", "text": "Time 4.0 [s]", "fontSize": 55, "align": "center", "baseline": "alphabetic"}, "encoding": {"x": {"datum": 18.42, "type": "quantitative", "scale": {"domain": [0, 36.367], "nice": false, "zero": false}, "axis": null}, "y": {"datum": 6.55, "type": "quantitative", "scale": {"domain": [-7.872, 7.699], "nice": false, "zero": false}, "axis": null}}},
    {"mark": {"type": "text", "text": "Temperature", "fontSize": 54, "align": "right", "baseline": "alphabetic"}, "encoding": {"x": {"datum": 35.84, "type": "quantitative", "scale": {"domain": [0, 36.367], "nice": false, "zero": false}, "axis": null}, "y": {"datum": 6.70, "type": "quantitative", "scale": {"domain": [-7.872, 7.699], "nice": false, "zero": false}, "axis": null}}},
    {"mark": {"type": "text", "text": "[K]", "fontSize": 52, "align": "right", "baseline": "middle"}, "encoding": {"x": {"datum": 36.05, "type": "quantitative", "scale": {"domain": [0, 36.367], "nice": false, "zero": false}, "axis": null}, "y": {"datum": 0.49, "type": "quantitative", "scale": {"domain": [-7.872, 7.699], "nice": false, "zero": false}, "axis": null}}},
    {"mark": {"type": "text", "text": "Weld direction", "fontSize": 55, "align": "left", "baseline": "alphabetic"}, "encoding": {"x": {"datum": 26.10, "type": "quantitative", "scale": {"domain": [0, 36.367], "nice": false, "zero": false}, "axis": null}, "y": {"datum": -5.60, "type": "quantitative", "scale": {"domain": [-7.872, 7.699], "nice": false, "zero": false}, "axis": null}}},
    {"mark": {"type": "text", "text": "Length (mm)", "fontSize": 56, "align": "center", "baseline": "alphabetic"}, "encoding": {"x": {"datum": 18.83, "type": "quantitative", "scale": {"domain": [0, 36.367], "nice": false, "zero": false}, "axis": null}, "y": {"datum": -6.96, "type": "quantitative", "scale": {"domain": [-7.872, 7.699], "nice": false, "zero": false}, "axis": null}}},
    {"mark": {"type": "text", "text": "Width", "fontSize": 55, "align": "center", "baseline": "middle", "angle": 270}, "encoding": {"x": {"datum": 0.98, "type": "quantitative", "scale": {"domain": [0, 36.367], "nice": false, "zero": false}, "axis": null}, "y": {"datum": 1.86, "type": "quantitative", "scale": {"domain": [-7.872, 7.699], "nice": false, "zero": false}, "axis": null}}},
    {"mark": {"type": "text", "text": "Depth", "fontSize": 55, "align": "center", "baseline": "middle", "angle": 270}, "encoding": {"x": {"datum": 0.98, "type": "quantitative", "scale": {"domain": [0, 36.367], "nice": false, "zero": false}, "axis": null}, "y": {"datum": -3.17, "type": "quantitative", "scale": {"domain": [-7.872, 7.699], "nice": false, "zero": false}, "axis": null}}},
    {"mark": {"type": "rule", "color": "#000000", "strokeWidth": 2.5}, "encoding": {"x": {"datum": 32.62, "type": "quantitative", "scale": {"domain": [0, 36.367], "nice": false, "zero": false}, "axis": null}, "x2": {"datum": 34.45}, "y": {"datum": -5.32, "type": "quantitative", "scale": {"domain": [-7.872, 7.699], "nice": false, "zero": false}, "axis": null}}},
    {"mark": {"type": "point", "shape": "triangle-right", "size": 130, "filled": true, "color": "#000000", "opacity": 1}, "encoding": {"x": {"datum": 34.45, "type": "quantitative", "scale": {"domain": [0, 36.367], "nice": false, "zero": false}, "axis": null}, "y": {"datum": -5.32, "type": "quantitative", "scale": {"domain": [-7.872, 7.699], "nice": false, "zero": false}, "axis": null}}},
    {"mark": {"type": "rule", "color": "#9a9a9a", "strokeWidth": 3}, "encoding": {"x": {"datum": 1.05, "type": "quantitative", "scale": {"domain": [0, 36.367], "nice": false, "zero": false}, "axis": null}, "y": {"datum": 3.28, "type": "quantitative", "scale": {"domain": [-7.872, 7.699], "nice": false, "zero": false}, "axis": null}, "y2": {"datum": 4.65}}},
    {"mark": {"type": "point", "shape": "triangle-up", "size": 130, "filled": true, "color": "#000000", "opacity": 1}, "encoding": {"x": {"datum": 1.05, "type": "quantitative", "scale": {"domain": [0, 36.367], "nice": false, "zero": false}, "axis": null}, "y": {"datum": 4.72, "type": "quantitative", "scale": {"domain": [-7.872, 7.699], "nice": false, "zero": false}, "axis": null}}},
    {"mark": {"type": "rule", "color": "#000000", "strokeWidth": 2}, "encoding": {"x": {"datum": 0.96, "type": "quantitative", "scale": {"domain": [0, 36.367], "nice": false, "zero": false}, "axis": null}, "y": {"datum": -4.60, "type": "quantitative", "scale": {"domain": [-7.872, 7.699], "nice": false, "zero": false}, "axis": null}, "y2": {"datum": -5.98}}},
    {"mark": {"type": "point", "shape": "triangle-down", "size": 130, "filled": true, "color": "#000000", "opacity": 1}, "encoding": {"x": {"datum": 0.96, "type": "quantitative", "scale": {"domain": [0, 36.367], "nice": false, "zero": false}, "axis": null}, "y": {"datum": -6.06, "type": "quantitative", "scale": {"domain": [-7.872, 7.699], "nice": false, "zero": false}, "axis": null}}}
  ]},
  {"layer": [
    {"data": {"name": "cb"}, "mark": {"type": "rect"}, "encoding": {"x": {"datum": 35.51, "type": "quantitative", "scale": {"domain": [0, 36.367], "nice": false, "zero": false}, "axis": null}, "x2": {"datum": 35.89}, "y": {"field": "l", "type": "quantitative", "scale": {"domain": [-599.5, 1979.5], "nice": false, "zero": false}, "axis": null}, "y2": {"field": "t1"}, "color": {"field": "l", "type": "ordinal", "scale": {"domain": [923,1123,1323,1523,1723], "range": ["#0097FF","#00F8A8","#6EF500","#FF9900","#FF0000"]}, "legend": null}}},
    {"data": {"name": "cl"}, "transform": [{"filter": "datum.t < 1700"}], "mark": {"type": "text", "align": "right", "baseline": "middle", "fontSize": 48, "dy": 2}, "encoding": {"x": {"datum": 35.20, "type": "quantitative", "scale": {"domain": [0, 36.367], "nice": false, "zero": false}, "axis": null}, "y": {"field": "t", "type": "quantitative", "scale": {"domain": [-599.5, 1979.5], "nice": false, "zero": false}, "axis": null}, "text": {"field": "t", "type": "nominal"}}},
    {"data": {"name": "cl"}, "transform": [{"filter": "datum.t > 1700"}], "mark": {"type": "text", "align": "right", "baseline": "middle", "fontSize": 48, "dy": 16}, "encoding": {"x": {"datum": 35.20, "type": "quantitative", "scale": {"domain": [0, 36.367], "nice": false, "zero": false}, "axis": null}, "y": {"field": "t", "type": "quantitative", "scale": {"domain": [-599.5, 1979.5], "nice": false, "zero": false}, "axis": null}, "text": {"field": "t", "type": "nominal"}}}
  ]}
 ]}
]},
{"spacing": 47, "resolve": {"scale": {"x": "independent", "y": "independent"}}, "vconcat": [
{"width": 2102, "height": 900, "data": {"values": [{}]},
 "resolve": {"scale": {"x": "independent", "y": "independent"}},
 "layer": [
  {"layer": [
    {"data": {"name": "cw"}, "mark": {"type": "area", "interpolate": "monotone", "strokeWidth": 1.5},
     "encoding": {"x": {"field": "x", "type": "quantitative", "scale": {"domain": [15.40, 51.767], "nice": false, "zero": false}, "axis": null},
      "y": {"field": "v", "type": "quantitative", "stack": null, "scale": {"domain": [-7.872, 7.699], "nice": false, "zero": false}, "axis": null},
      "y2": {"datum": 0},
      "color": {"field": "l", "type": "ordinal", "scale": {"domain": [923,1123,1323,1523,1723], "range": ["#0097FF","#00F8A8","#6EF500","#FF9900","#FF0000"]}, "legend": null},
      "stroke": {"field": "l", "type": "ordinal", "scale": {"domain": [923,1123,1323,1523,1723], "range": ["#0097FF","#2E8A6A","#3C7A1C","#7A5A1A","#9A3A1A"]}, "legend": null},
      "detail": {"field": "g"}}},
    {"mark": {"type": "rule", "color": "#999999", "strokeWidth": 2.5}, "encoding": {"y": {"datum": 0, "type": "quantitative", "scale": {"domain": [-7.872, 7.699], "nice": false, "zero": false}, "axis": null}}},
    {"mark": {"type": "rule", "color": "#a6a6a6", "strokeWidth": 3.5}, "encoding": {"y": {"datum": -0.58, "type": "quantitative", "scale": {"domain": [-7.872, 7.699], "nice": false, "zero": false}, "axis": null}}},
    {"mark": {"type": "rule", "color": "#999999", "strokeWidth": 2.5}, "encoding": {"y": {"datum": -1.384, "type": "quantitative", "scale": {"domain": [-7.872, 7.699], "nice": false, "zero": false}, "axis": null}}},
    {"data": {"name": "tc"}, "mark": {"type": "point", "shape": "M-1,0L1,0M0,-1L0,1", "size": 420, "filled": false, "color": "#6e6e6e", "strokeWidth": 2, "opacity": 1},
     "encoding": {"x": {"field": "t", "type": "quantitative", "scale": {"domain": [15.40, 51.767], "nice": false, "zero": false}, "axis": null}, "y": {"datum": -0.58, "type": "quantitative", "scale": {"domain": [-7.872, 7.699], "nice": false, "zero": false}, "axis": null}}},
    {"data": {"name": "tc"}, "mark": {"type": "text", "align": "right", "baseline": "alphabetic", "dx": -17, "fontSize": 48},
     "encoding": {"x": {"field": "t", "type": "quantitative", "scale": {"domain": [15.40, 51.767], "nice": false, "zero": false}, "axis": null}, "y": {"datum": -1.31, "type": "quantitative", "scale": {"domain": [-7.872, 7.699], "nice": false, "zero": false}, "axis": null}, "text": {"field": "t", "type": "nominal"}}}
  ]},
  {"data": {"name": "cd"}, "mark": {"type": "area", "interpolate": "monotone", "strokeWidth": 1.5},
   "encoding": {"x": {"field": "x", "type": "quantitative", "scale": {"domain": [15.40, 51.767], "nice": false, "zero": false}, "axis": null},
    "y": {"field": "v", "type": "quantitative", "stack": null, "scale": {"domain": [-9.083, 6.488], "nice": false, "zero": false, "reverse": true}, "axis": null},
    "y2": {"datum": 0},
    "color": {"field": "l", "type": "ordinal", "scale": {"domain": [923,1123,1323,1523,1723], "range": ["#0097FF","#00F8A8","#6EF500","#FF9900","#FF0000"]}, "legend": null},
    "stroke": {"field": "l", "type": "ordinal", "scale": {"domain": [923,1123,1323,1523,1723], "range": ["#0097FF","#2E8A6A","#3C7A1C","#7A5A1A","#9A3A1A"]}, "legend": null},
    "detail": {"field": "g"}}},
  {"layer": [
    {"mark": {"type": "text", "text": "(c)", "fontSize": 58, "align": "left", "baseline": "alphabetic"}, "encoding": {"x": {"datum": 0.42, "type": "quantitative", "scale": {"domain": [0, 36.367], "nice": false, "zero": false}, "axis": null}, "y": {"datum": 6.48, "type": "quantitative", "scale": {"domain": [-7.872, 7.699], "nice": false, "zero": false}, "axis": null}}},
    {"mark": {"type": "text", "text": "Time 4.0 [s]", "fontSize": 55, "align": "center", "baseline": "alphabetic"}, "encoding": {"x": {"datum": 18.42, "type": "quantitative", "scale": {"domain": [0, 36.367], "nice": false, "zero": false}, "axis": null}, "y": {"datum": 6.55, "type": "quantitative", "scale": {"domain": [-7.872, 7.699], "nice": false, "zero": false}, "axis": null}}},
    {"mark": {"type": "text", "text": "Temperature", "fontSize": 54, "align": "right", "baseline": "alphabetic"}, "encoding": {"x": {"datum": 35.84, "type": "quantitative", "scale": {"domain": [0, 36.367], "nice": false, "zero": false}, "axis": null}, "y": {"datum": 6.70, "type": "quantitative", "scale": {"domain": [-7.872, 7.699], "nice": false, "zero": false}, "axis": null}}},
    {"mark": {"type": "text", "text": "[K]", "fontSize": 52, "align": "right", "baseline": "middle"}, "encoding": {"x": {"datum": 36.05, "type": "quantitative", "scale": {"domain": [0, 36.367], "nice": false, "zero": false}, "axis": null}, "y": {"datum": 0.49, "type": "quantitative", "scale": {"domain": [-7.872, 7.699], "nice": false, "zero": false}, "axis": null}}},
    {"mark": {"type": "text", "text": "Weld direction", "fontSize": 55, "align": "left", "baseline": "alphabetic"}, "encoding": {"x": {"datum": 26.10, "type": "quantitative", "scale": {"domain": [0, 36.367], "nice": false, "zero": false}, "axis": null}, "y": {"datum": -5.60, "type": "quantitative", "scale": {"domain": [-7.872, 7.699], "nice": false, "zero": false}, "axis": null}}},
    {"mark": {"type": "text", "text": "Length (mm)", "fontSize": 56, "align": "center", "baseline": "alphabetic"}, "encoding": {"x": {"datum": 18.83, "type": "quantitative", "scale": {"domain": [0, 36.367], "nice": false, "zero": false}, "axis": null}, "y": {"datum": -6.96, "type": "quantitative", "scale": {"domain": [-7.872, 7.699], "nice": false, "zero": false}, "axis": null}}},
    {"mark": {"type": "text", "text": "Width", "fontSize": 55, "align": "center", "baseline": "middle", "angle": 270}, "encoding": {"x": {"datum": 0.98, "type": "quantitative", "scale": {"domain": [0, 36.367], "nice": false, "zero": false}, "axis": null}, "y": {"datum": 1.86, "type": "quantitative", "scale": {"domain": [-7.872, 7.699], "nice": false, "zero": false}, "axis": null}}},
    {"mark": {"type": "text", "text": "Depth", "fontSize": 55, "align": "center", "baseline": "middle", "angle": 270}, "encoding": {"x": {"datum": 0.98, "type": "quantitative", "scale": {"domain": [0, 36.367], "nice": false, "zero": false}, "axis": null}, "y": {"datum": -3.17, "type": "quantitative", "scale": {"domain": [-7.872, 7.699], "nice": false, "zero": false}, "axis": null}}},
    {"mark": {"type": "rule", "color": "#000000", "strokeWidth": 2.5}, "encoding": {"x": {"datum": 32.62, "type": "quantitative", "scale": {"domain": [0, 36.367], "nice": false, "zero": false}, "axis": null}, "x2": {"datum": 34.45}, "y": {"datum": -5.32, "type": "quantitative", "scale": {"domain": [-7.872, 7.699], "nice": false, "zero": false}, "axis": null}}},
    {"mark": {"type": "point", "shape": "triangle-right", "size": 130, "filled": true, "color": "#000000", "opacity": 1}, "encoding": {"x": {"datum": 34.45, "type": "quantitative", "scale": {"domain": [0, 36.367], "nice": false, "zero": false}, "axis": null}, "y": {"datum": -5.32, "type": "quantitative", "scale": {"domain": [-7.872, 7.699], "nice": false, "zero": false}, "axis": null}}},
    {"mark": {"type": "rule", "color": "#9a9a9a", "strokeWidth": 3}, "encoding": {"x": {"datum": 1.05, "type": "quantitative", "scale": {"domain": [0, 36.367], "nice": false, "zero": false}, "axis": null}, "y": {"datum": 3.28, "type": "quantitative", "scale": {"domain": [-7.872, 7.699], "nice": false, "zero": false}, "axis": null}, "y2": {"datum": 4.65}}},
    {"mark": {"type": "point", "shape": "triangle-up", "size": 130, "filled": true, "color": "#000000", "opacity": 1}, "encoding": {"x": {"datum": 1.05, "type": "quantitative", "scale": {"domain": [0, 36.367], "nice": false, "zero": false}, "axis": null}, "y": {"datum": 4.72, "type": "quantitative", "scale": {"domain": [-7.872, 7.699], "nice": false, "zero": false}, "axis": null}}},
    {"mark": {"type": "rule", "color": "#000000", "strokeWidth": 2}, "encoding": {"x": {"datum": 0.96, "type": "quantitative", "scale": {"domain": [0, 36.367], "nice": false, "zero": false}, "axis": null}, "y": {"datum": -4.60, "type": "quantitative", "scale": {"domain": [-7.872, 7.699], "nice": false, "zero": false}, "axis": null}, "y2": {"datum": -5.98}}},
    {"mark": {"type": "point", "shape": "triangle-down", "size": 130, "filled": true, "color": "#000000", "opacity": 1}, "encoding": {"x": {"datum": 0.96, "type": "quantitative", "scale": {"domain": [0, 36.367], "nice": false, "zero": false}, "axis": null}, "y": {"datum": -6.06, "type": "quantitative", "scale": {"domain": [-7.872, 7.699], "nice": false, "zero": false}, "axis": null}}}
  ]},
  {"layer": [
    {"data": {"name": "cb"}, "mark": {"type": "rect"}, "encoding": {"x": {"datum": 35.51, "type": "quantitative", "scale": {"domain": [0, 36.367], "nice": false, "zero": false}, "axis": null}, "x2": {"datum": 35.89}, "y": {"field": "l", "type": "quantitative", "scale": {"domain": [-599.5, 1979.5], "nice": false, "zero": false}, "axis": null}, "y2": {"field": "t1"}, "color": {"field": "l", "type": "ordinal", "scale": {"domain": [923,1123,1323,1523,1723], "range": ["#0097FF","#00F8A8","#6EF500","#FF9900","#FF0000"]}, "legend": null}}},
    {"data": {"name": "cl"}, "transform": [{"filter": "datum.t < 1700"}], "mark": {"type": "text", "align": "right", "baseline": "middle", "fontSize": 48, "dy": 2}, "encoding": {"x": {"datum": 35.20, "type": "quantitative", "scale": {"domain": [0, 36.367], "nice": false, "zero": false}, "axis": null}, "y": {"field": "t", "type": "quantitative", "scale": {"domain": [-599.5, 1979.5], "nice": false, "zero": false}, "axis": null}, "text": {"field": "t", "type": "nominal"}}},
    {"data": {"name": "cl"}, "transform": [{"filter": "datum.t > 1700"}], "mark": {"type": "text", "align": "right", "baseline": "middle", "fontSize": 48, "dy": 16}, "encoding": {"x": {"datum": 35.20, "type": "quantitative", "scale": {"domain": [0, 36.367], "nice": false, "zero": false}, "axis": null}, "y": {"field": "t", "type": "quantitative", "scale": {"domain": [-599.5, 1979.5], "nice": false, "zero": false}, "axis": null}, "text": {"field": "t", "type": "nominal"}}}
  ]}
 ]},
{"width": 2102, "height": 900, "data": {"values": [{}]},
 "resolve": {"scale": {"x": "independent", "y": "independent"}},
 "layer": [
  {"layer": [
    {"data": {"name": "dw"}, "mark": {"type": "area", "interpolate": "monotone", "strokeWidth": 1.5},
     "encoding": {"x": {"field": "x", "type": "quantitative", "scale": {"domain": [19.40, 55.767], "nice": false, "zero": false}, "axis": null},
      "y": {"field": "v", "type": "quantitative", "stack": null, "scale": {"domain": [-7.872, 7.699], "nice": false, "zero": false}, "axis": null},
      "y2": {"datum": 0},
      "color": {"field": "l", "type": "ordinal", "scale": {"domain": [923,1123,1323,1523,1723], "range": ["#0097FF","#00F8A8","#6EF500","#FF9900","#FF0000"]}, "legend": null},
      "stroke": {"field": "l", "type": "ordinal", "scale": {"domain": [923,1123,1323,1523,1723], "range": ["#0097FF","#2E8A6A","#3C7A1C","#7A5A1A","#9A3A1A"]}, "legend": null},
      "detail": {"field": "g"}}},
    {"mark": {"type": "rule", "color": "#999999", "strokeWidth": 2.5}, "encoding": {"y": {"datum": 0, "type": "quantitative", "scale": {"domain": [-7.872, 7.699], "nice": false, "zero": false}, "axis": null}}},
    {"mark": {"type": "rule", "color": "#a6a6a6", "strokeWidth": 3.5}, "encoding": {"y": {"datum": -0.58, "type": "quantitative", "scale": {"domain": [-7.872, 7.699], "nice": false, "zero": false}, "axis": null}}},
    {"mark": {"type": "rule", "color": "#999999", "strokeWidth": 2.5}, "encoding": {"y": {"datum": -1.384, "type": "quantitative", "scale": {"domain": [-7.872, 7.699], "nice": false, "zero": false}, "axis": null}}},
    {"data": {"name": "td"}, "mark": {"type": "point", "shape": "M-1,0L1,0M0,-1L0,1", "size": 420, "filled": false, "color": "#6e6e6e", "strokeWidth": 2, "opacity": 1},
     "encoding": {"x": {"field": "t", "type": "quantitative", "scale": {"domain": [19.40, 55.767], "nice": false, "zero": false}, "axis": null}, "y": {"datum": -0.58, "type": "quantitative", "scale": {"domain": [-7.872, 7.699], "nice": false, "zero": false}, "axis": null}}},
    {"data": {"name": "td"}, "mark": {"type": "text", "align": "right", "baseline": "alphabetic", "dx": -17, "fontSize": 48},
     "encoding": {"x": {"field": "t", "type": "quantitative", "scale": {"domain": [19.40, 55.767], "nice": false, "zero": false}, "axis": null}, "y": {"datum": -1.31, "type": "quantitative", "scale": {"domain": [-7.872, 7.699], "nice": false, "zero": false}, "axis": null}, "text": {"field": "t", "type": "nominal"}}}
  ]},
  {"data": {"name": "dd"}, "mark": {"type": "area", "interpolate": "monotone", "strokeWidth": 1.5},
   "encoding": {"x": {"field": "x", "type": "quantitative", "scale": {"domain": [19.40, 55.767], "nice": false, "zero": false}, "axis": null},
    "y": {"field": "v", "type": "quantitative", "stack": null, "scale": {"domain": [-9.083, 6.488], "nice": false, "zero": false, "reverse": true}, "axis": null},
    "y2": {"datum": 0},
    "color": {"field": "l", "type": "ordinal", "scale": {"domain": [923,1123,1323,1523,1723], "range": ["#0097FF","#00F8A8","#6EF500","#FF9900","#FF0000"]}, "legend": null},
    "stroke": {"field": "l", "type": "ordinal", "scale": {"domain": [923,1123,1323,1523,1723], "range": ["#0097FF","#2E8A6A","#3C7A1C","#7A5A1A","#9A3A1A"]}, "legend": null},
    "detail": {"field": "g"}}},
  {"layer": [
    {"mark": {"type": "text", "text": "(d)", "fontSize": 58, "align": "left", "baseline": "alphabetic"}, "encoding": {"x": {"datum": 0.42, "type": "quantitative", "scale": {"domain": [0, 36.367], "nice": false, "zero": false}, "axis": null}, "y": {"datum": 6.48, "type": "quantitative", "scale": {"domain": [-7.872, 7.699], "nice": false, "zero": false}, "axis": null}}},
    {"mark": {"type": "text", "text": "Time 4.5 [s]", "fontSize": 55, "align": "center", "baseline": "alphabetic"}, "encoding": {"x": {"datum": 18.42, "type": "quantitative", "scale": {"domain": [0, 36.367], "nice": false, "zero": false}, "axis": null}, "y": {"datum": 6.55, "type": "quantitative", "scale": {"domain": [-7.872, 7.699], "nice": false, "zero": false}, "axis": null}}},
    {"mark": {"type": "text", "text": "Temperature", "fontSize": 54, "align": "right", "baseline": "alphabetic"}, "encoding": {"x": {"datum": 35.84, "type": "quantitative", "scale": {"domain": [0, 36.367], "nice": false, "zero": false}, "axis": null}, "y": {"datum": 6.70, "type": "quantitative", "scale": {"domain": [-7.872, 7.699], "nice": false, "zero": false}, "axis": null}}},
    {"mark": {"type": "text", "text": "[K]", "fontSize": 52, "align": "right", "baseline": "middle"}, "encoding": {"x": {"datum": 36.05, "type": "quantitative", "scale": {"domain": [0, 36.367], "nice": false, "zero": false}, "axis": null}, "y": {"datum": 0.49, "type": "quantitative", "scale": {"domain": [-7.872, 7.699], "nice": false, "zero": false}, "axis": null}}},
    {"mark": {"type": "text", "text": "Weld direction", "fontSize": 55, "align": "left", "baseline": "alphabetic"}, "encoding": {"x": {"datum": 26.10, "type": "quantitative", "scale": {"domain": [0, 36.367], "nice": false, "zero": false}, "axis": null}, "y": {"datum": -5.60, "type": "quantitative", "scale": {"domain": [-7.872, 7.699], "nice": false, "zero": false}, "axis": null}}},
    {"mark": {"type": "text", "text": "Length (mm)", "fontSize": 56, "align": "center", "baseline": "alphabetic"}, "encoding": {"x": {"datum": 18.83, "type": "quantitative", "scale": {"domain": [0, 36.367], "nice": false, "zero": false}, "axis": null}, "y": {"datum": -6.96, "type": "quantitative", "scale": {"domain": [-7.872, 7.699], "nice": false, "zero": false}, "axis": null}}},
    {"mark": {"type": "text", "text": "Width", "fontSize": 55, "align": "center", "baseline": "middle", "angle": 270}, "encoding": {"x": {"datum": 0.98, "type": "quantitative", "scale": {"domain": [0, 36.367], "nice": false, "zero": false}, "axis": null}, "y": {"datum": 1.86, "type": "quantitative", "scale": {"domain": [-7.872, 7.699], "nice": false, "zero": false}, "axis": null}}},
    {"mark": {"type": "text", "text": "Depth", "fontSize": 55, "align": "center", "baseline": "middle", "angle": 270}, "encoding": {"x": {"datum": 0.98, "type": "quantitative", "scale": {"domain": [0, 36.367], "nice": false, "zero": false}, "axis": null}, "y": {"datum": -3.17, "type": "quantitative", "scale": {"domain": [-7.872, 7.699], "nice": false, "zero": false}, "axis": null}}},
    {"mark": {"type": "rule", "color": "#000000", "strokeWidth": 2.5}, "encoding": {"x": {"datum": 32.62, "type": "quantitative", "scale": {"domain": [0, 36.367], "nice": false, "zero": false}, "axis": null}, "x2": {"datum": 34.45}, "y": {"datum": -5.32, "type": "quantitative", "scale": {"domain": [-7.872, 7.699], "nice": false, "zero": false}, "axis": null}}},
    {"mark": {"type": "point", "shape": "triangle-right", "size": 130, "filled": true, "color": "#000000", "opacity": 1}, "encoding": {"x": {"datum": 34.45, "type": "quantitative", "scale": {"domain": [0, 36.367], "nice": false, "zero": false}, "axis": null}, "y": {"datum": -5.32, "type": "quantitative", "scale": {"domain": [-7.872, 7.699], "nice": false, "zero": false}, "axis": null}}},
    {"mark": {"type": "rule", "color": "#9a9a9a", "strokeWidth": 3}, "encoding": {"x": {"datum": 1.05, "type": "quantitative", "scale": {"domain": [0, 36.367], "nice": false, "zero": false}, "axis": null}, "y": {"datum": 3.28, "type": "quantitative", "scale": {"domain": [-7.872, 7.699], "nice": false, "zero": false}, "axis": null}, "y2": {"datum": 4.65}}},
    {"mark": {"type": "point", "shape": "triangle-up", "size": 130, "filled": true, "color": "#000000", "opacity": 1}, "encoding": {"x": {"datum": 1.05, "type": "quantitative", "scale": {"domain": [0, 36.367], "nice": false, "zero": false}, "axis": null}, "y": {"datum": 4.72, "type": "quantitative", "scale": {"domain": [-7.872, 7.699], "nice": false, "zero": false}, "axis": null}}},
    {"mark": {"type": "rule", "color": "#000000", "strokeWidth": 2}, "encoding": {"x": {"datum": 0.96, "type": "quantitative", "scale": {"domain": [0, 36.367], "nice": false, "zero": false}, "axis": null}, "y": {"datum": -4.60, "type": "quantitative", "scale": {"domain": [-7.872, 7.699], "nice": false, "zero": false}, "axis": null}, "y2": {"datum": -5.98}}},
    {"mark": {"type": "point", "shape": "triangle-down", "size": 130, "filled": true, "color": "#000000", "opacity": 1}, "encoding": {"x": {"datum": 0.96, "type": "quantitative", "scale": {"domain": [0, 36.367], "nice": false, "zero": false}, "axis": null}, "y": {"datum": -6.06, "type": "quantitative", "scale": {"domain": [-7.872, 7.699], "nice": false, "zero": false}, "axis": null}}}
  ]},
  {"layer": [
    {"data": {"name": "cb"}, "mark": {"type": "rect"}, "encoding": {"x": {"datum": 35.51, "type": "quantitative", "scale": {"domain": [0, 36.367], "nice": false, "zero": false}, "axis": null}, "x2": {"datum": 35.89}, "y": {"field": "l", "type": "quantitative", "scale": {"domain": [-599.5, 1979.5], "nice": false, "zero": false}, "axis": null}, "y2": {"field": "t1"}, "color": {"field": "l", "type": "ordinal", "scale": {"domain": [923,1123,1323,1523,1723], "range": ["#0097FF","#00F8A8","#6EF500","#FF9900","#FF0000"]}, "legend": null}}},
    {"data": {"name": "cl"}, "transform": [{"filter": "datum.t < 1700"}], "mark": {"type": "text", "align": "right", "baseline": "middle", "fontSize": 48, "dy": 2}, "encoding": {"x": {"datum": 35.20, "type": "quantitative", "scale": {"domain": [0, 36.367], "nice": false, "zero": false}, "axis": null}, "y": {"field": "t", "type": "quantitative", "scale": {"domain": [-599.5, 1979.5], "nice": false, "zero": false}, "axis": null}, "text": {"field": "t", "type": "nominal"}}},
    {"data": {"name": "cl"}, "transform": [{"filter": "datum.t > 1700"}], "mark": {"type": "text", "align": "right", "baseline": "middle", "fontSize": 48, "dy": 16}, "encoding": {"x": {"datum": 35.20, "type": "quantitative", "scale": {"domain": [0, 36.367], "nice": false, "zero": false}, "axis": null}, "y": {"field": "t", "type": "quantitative", "scale": {"domain": [-599.5, 1979.5], "nice": false, "zero": false}, "axis": null}, "text": {"field": "t", "type": "nominal"}}}
  ]}
 ]}
]}
]
}
